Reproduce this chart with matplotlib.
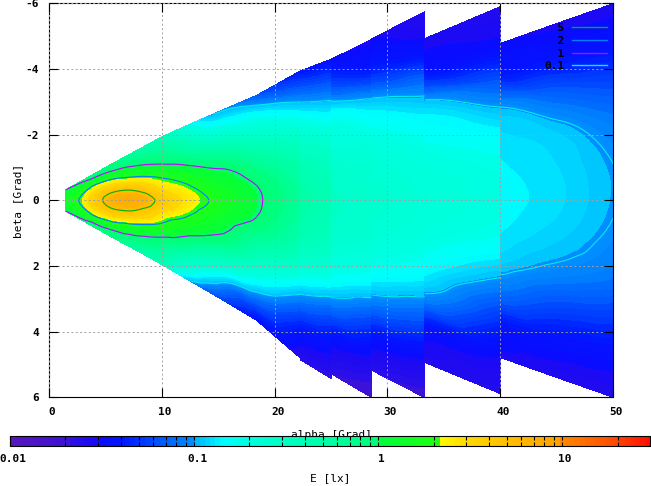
import numpy as np
import matplotlib
matplotlib.use("Agg")
import matplotlib.pyplot as plt
import matplotlib.cm as cm
from matplotlib.colors import LinearSegmentedColormap, LogNorm, Normalize
from matplotlib.lines import Line2D
from matplotlib.ticker import LogLocator, NullFormatter
from matplotlib.transforms import ScaledTranslation
from matplotlib.tri import Triangulation, UniformTriRefiner, CubicTriInterpolator

# position across a strip: -1 = upper edge, 0 = beta 0, +1 = lower edge
S_ROWS = [-1.0, -0.8, -0.6, -0.4, -0.2, 0.0, 0.2, 0.4, 0.6, 0.8, 1.0]

# strip A: main lobe (E in lx, one list per alpha column, upper edge -> lower edge)
A_ALPHA = [1.5, 2.5, 4, 5.5, 7, 8.5, 10, 12, 14, 16, 18.4]
A_TOP = [-0.33, -0.52, -0.81, -1.1, -1.38, -1.66, -1.94, -2.25, -2.55, -2.85, -3.2]
A_BOT = [0.33, 0.52, 0.81, 1.1, 1.38, 1.66, 1.95, 2.35, 2.75, 3.15, 3.65]
A_E = [
    [1.0, 1.1, 1.2, 1.3, 1.38, 1.4, 1.38, 1.3, 1.2, 1.1, 1.0],
    [0.95, 1.15, 1.4, 1.6, 1.8, 1.9, 1.8, 1.6, 1.4, 1.15, 0.95],
    [0.85, 1.1, 1.9, 2.6, 3.3, 3.6, 3.3, 2.6, 1.9, 1.1, 0.85],
    [0.8, 1.02, 1.9, 3.2, 5.1, 6.5, 5.1, 3.2, 1.9, 1.02, 0.8],
    [0.6, 0.87, 1.5, 2.9, 5.4, 8.0, 5.4, 2.9, 1.5, 0.87, 0.6],
    [0.45, 0.71, 1.17, 2.3, 4.2, 6.5, 4.2, 2.3, 1.17, 0.71, 0.45],
    [0.38, 0.59, 0.92, 1.77, 2.8, 4.2, 2.8, 1.77, 0.92, 0.59, 0.38],
    [0.2, 0.37, 0.69, 1.28, 2.16, 2.8, 2.1, 1.22, 0.64, 0.3, 0.12],
    [0.107, 0.22, 0.5, 0.98, 1.52, 2.05, 1.5, 0.96, 0.42, 0.16, 0.07],
    [0.094, 0.18, 0.4, 0.85, 1.2, 1.5, 1.15, 0.78, 0.3, 0.10, 0.05],
    [0.065, 0.16, 0.3, 0.58, 0.93, 1.08, 0.9, 0.47, 0.21, 0.085, 0.035],
]

B_ALPHA = [18.4, 22.3]
B_TOP = [-3.2, -3.95]
B_BOT = [3.65, 4.8]
B_E = [
    [0.065, 0.16, 0.3, 0.58, 0.93, 1.08, 0.9, 0.47, 0.21, 0.085, 0.035],
    [0.038, 0.085, 0.19, 0.36, 0.53, 0.62, 0.5, 0.28, 0.098, 0.042, 0.024],
]

C_ALPHA = [22.3, 25.0]
C_TOP = [-3.95, -4.3]
C_BOT = [4.85, 5.42]
C_E = [
    [0.038, 0.085, 0.18, 0.31, 0.44, 0.5, 0.42, 0.24, 0.095, 0.04, 0.023],
    [0.034, 0.072, 0.145, 0.26, 0.36, 0.4, 0.34, 0.2, 0.075, 0.035, 0.021],
]

D_ALPHA = [25.0, 28.6]
D_TOP = [-4.3, -4.9]
D_BOT = [5.27, 6.0]
D_E = [
    [0.032, 0.062, 0.16, 0.21, 0.265, 0.29, 0.26, 0.185, 0.085, 0.034, 0.021],
    [0.028, 0.042, 0.115, 0.19, 0.24, 0.26, 0.235, 0.15, 0.06, 0.028, 0.018],
]

E_ALPHA = [28.6, 33.3]
E_TOP = [-4.92, -5.75]
E_BOT = [5.17, 6.0]
E_E = [
    [0.03, 0.045, 0.115, 0.185, 0.23, 0.25, 0.225, 0.165, 0.085, 0.036, 0.022],
    [0.024, 0.034, 0.085, 0.15, 0.2, 0.215, 0.195, 0.135, 0.065, 0.03, 0.019],
]

F_ALPHA = [33.3, 40.0]
F_TOP = [-4.93, -5.9]
F_BOT = [4.93, 5.88]
F_E = [
    [0.028, 0.036, 0.11, 0.16, 0.205, 0.22, 0.2, 0.15, 0.092, 0.034, 0.026],
    [0.026, 0.032, 0.068, 0.125, 0.175, 0.19, 0.165, 0.1, 0.052, 0.03, 0.024],
]

G_ALPHA = [40.0, 45.0, 50.0]
G_TOP = [-4.78, -5.39, -5.99]
G_BOT = [4.78, 5.39, 5.99]
G_E = [
    [0.03, 0.04, 0.099, 0.125, 0.135, 0.14, 0.133, 0.113, 0.075, 0.037, 0.028],
    [0.028, 0.038, 0.07, 0.11, 0.122, 0.125, 0.115, 0.093, 0.058, 0.035, 0.026],
    [0.027, 0.036, 0.058, 0.085, 0.0995, 0.102, 0.095, 0.08, 0.052, 0.033, 0.025],
]

STRIPS = [
    (A_ALPHA, A_TOP, A_BOT, A_E),
    (B_ALPHA, B_TOP, B_BOT, B_E),
    (C_ALPHA, C_TOP, C_BOT, C_E),
    (D_ALPHA, D_TOP, D_BOT, D_E),
    (E_ALPHA, E_TOP, E_BOT, E_E),
    (F_ALPHA, F_TOP, F_BOT, F_E),
    (G_ALPHA, G_TOP, G_BOT, G_E),
]

CONTOUR_LEVELS = [0.1, 1, 2, 5]
CONTOUR_COLORS = ["#00eeee", "#c000ff", "#0080ff", "#00b000"]
LEGEND_LABELS = ["  5", "  2", "  1", "0.1"]
LEGEND_COLORS = ["#00b000", "#0080ff", "#c000ff", "#00eeee"]

E_MIN, E_MAX = 0.01, 30
CB_TICKS = [0.01, 0.1, 1, 10]
CB_LABELS = ["0.01", "0.1", "1", "10"]

plt.rcParams["font.family"] = "DejaVu Sans Mono"
plt.rcParams["font.weight"] = "bold"
plt.rcParams["font.size"] = 8
plt.rcParams["axes.unicode_minus"] = False

# palette, position along the log10 range of the colour box
pal = [(0.0, "#5816bd"), (0.089, "#3a12d8"), (0.089, "#2c10e6"), (0.1375, "#1808f8"),
       (0.1375, "#0a0aff"), (0.175, "#0018ff"), (0.286, "#0090ff"), (0.286, "#00b0ff"),
       (0.333, "#00ffff"), (0.375, "#00ffdc"), (0.508, "#00ffa0"), (0.575, "#00ff70"),
       (0.575, "#00ff40"), (0.67, "#20ff10"), (0.67, "#ffff00"), (0.714, "#ffd800"),
       (0.8625, "#ffa000"), (0.8625, "#ff8a00"), (0.948, "#ff4a00"), (1.0, "#ff1000")]
cmap = LinearSegmentedColormap.from_list("lux", pal, N=128)

lmin, lmax = np.log10(E_MIN), np.log10(E_MAX)
fill_levels = np.linspace(lmin, lmax, 97)
norm = Normalize(lmin, lmax)

fig = plt.figure(figsize=(6.51, 4.86), dpi=100)
ax = fig.add_axes([0.0753, 0.1821, 0.8664, 0.8107])

s = np.array(S_ROWS)[:, None]
nr = len(S_ROWS)
for alpha, top, bot, vals in STRIPS:
    nc = len(alpha)
    X = np.tile(np.array(alpha, float), (nr, 1))
    Y = np.where(s < 0, -s * np.array(top)[None, :], s * np.array(bot)[None, :])
    Z = np.log10(np.array(vals).T)
    idx = np.arange(nr * nc).reshape(nr, nc)
    tris = []
    for i in range(nr - 1):
        for j in range(nc - 1):
            a, b, c, d = idx[i, j], idx[i, j + 1], idx[i + 1, j], idx[i + 1, j + 1]
            tris += [[a, b, d], [a, d, c]]
    tri = Triangulation(X.ravel(), Y.ravel(), tris)
    interp = CubicTriInterpolator(tri, Z.ravel(), kind="geom")
    tri_r, z_r = UniformTriRefiner(tri).refine_field(Z.ravel(), triinterpolator=interp, subdiv=3)
    ax.tricontourf(tri_r, z_r, levels=fill_levels, cmap=cmap, norm=norm, extend="both",
                   antialiased=False, zorder=1)
    ax.tricontour(tri_r, z_r, levels=np.log10(CONTOUR_LEVELS), colors=CONTOUR_COLORS,
                  linewidths=0.8, zorder=2)

ax.set_xlim(0, 50)
ax.set_ylim(6, -6)
ax.set_xticks(range(0, 51, 10))
ax.set_yticks(range(-6, 7, 2))
ax.tick_params(direction="in", top=True, right=True, length=6.5, width=0.8, pad=7)
for sp in ax.spines.values():
    sp.set_linewidth(0.8)
ax.grid(True, color="#a0a0a0", linestyle=(0, (2, 2.5)), linewidth=0.7)
ax.set_axisbelow(False)
ax.set_xlabel("alpha [Grad]")
ax.xaxis.set_label_coords(0.5, -0.083)
ax.set_ylabel("beta [Grad]", labelpad=2)

shift = ScaledTranslation(3 / 100, 0, fig.dpi_scale_trans)
for lab in ax.get_xticklabels():
    lab.set_transform(lab.get_transform() + shift)

handles = [Line2D([], [], color=c, lw=1.0) for c in LEGEND_COLORS]
ax.legend(handles, LEGEND_LABELS, loc="upper right", bbox_to_anchor=(0.9889, 0.9505),
          frameon=False, markerfirst=False, handlelength=3.1, handletextpad=0.7,
          labelspacing=0.25, borderpad=0, borderaxespad=0)

cax = fig.add_axes([0.01536, 0.08333, 0.9831, 0.01955])
sm = cm.ScalarMappable(norm=LogNorm(E_MIN, E_MAX), cmap=cmap)
cb = fig.colorbar(sm, cax=cax, orientation="horizontal")
cb.outline.set_linewidth(0.8)
cb.set_ticks(CB_TICKS, labels=CB_LABELS)
cax.xaxis.set_minor_locator(LogLocator(base=10, subs=np.arange(2, 10)))
cax.xaxis.set_minor_formatter(NullFormatter())
cax.tick_params(which="both", direction="in", top=True, bottom=True, length=3,
                width=0.8, color="black", pad=6)
for lab in cax.get_xticklabels():
    lab.set_transform(lab.get_transform() + ScaledTranslation(3 / 100, 0, fig.dpi_scale_trans))
cb.set_label("E [lx]", labelpad=7)

fig.savefig("out.png", dpi=100)
